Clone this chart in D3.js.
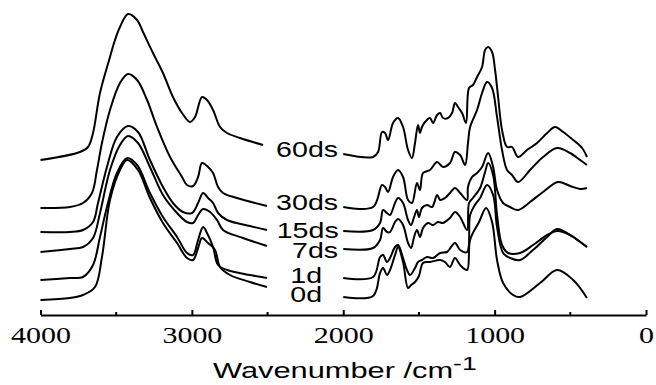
<!DOCTYPE html>
<html>
<head>
<meta charset="utf-8">
<script src="https://cdn.jsdelivr.net/npm/d3@7"></script>
<style>
  body { margin: 0; background: #fff; }
  svg { display: block; }
  .tick text { font-family: "Liberation Serif", "DejaVu Serif", serif; }
</style>
</head>
<body>
<svg id="chart"></svg>
<script>
// FTIR spectra, stacked (intensity in arbitrary units)
var names = ["60ds", "30ds", "15ds", "7ds", "1d", "0d"];

// 4000 - 2500 cm-1 region, [wavenumber, a.u.]
var hi60ds = [[4000,1.55],[3739,1.63],[3686,1.68],[3653,1.82],[3607,2.22],[3541,2.58],[3508,2.75],[3475,2.88],[3422,3.01],[3362,2.95],[3323,2.83],[3257,2.62],[3191,2.42],[3125,2.18],[3065,2.02],[3012,1.93],[2979,1.98],[2933,2.18],[2900,2.15],[2860,2.05],[2814,1.88],[2768,1.82],[2682,1.77],[2530,1.70]];
var hi30ds = [[4000,1.07],[3805,1.08],[3719,1.12],[3660,1.22],[3627,1.45],[3594,1.72],[3541,2.05],[3475,2.32],[3422,2.41],[3362,2.35],[3296,2.15],[3230,1.88],[3144,1.58],[3065,1.38],[3032,1.30],[2992,1.29],[2959,1.38],[2933,1.52],[2893,1.48],[2860,1.42],[2827,1.28],[2794,1.22],[2702,1.17],[2504,1.09]];
var hi15ds = [[4000,0.83],[3805,0.83],[3719,0.85],[3653,0.93],[3620,1.12],[3561,1.48],[3495,1.78],[3422,1.89],[3356,1.83],[3277,1.55],[3191,1.28],[3125,1.12],[3059,1.03],[2999,1.02],[2959,1.12],[2926,1.22],[2893,1.17],[2860,1.12],[2827,1.02],[2768,0.95],[2616,0.89],[2504,0.85]];
var hi7ds = [[4000,0.63],[3805,0.66],[3719,0.68],[3653,0.77],[3607,1.02],[3541,1.45],[3475,1.70],[3422,1.79],[3356,1.72],[3277,1.48],[3191,1.20],[3098,1.02],[3032,0.93],[2992,0.92],[2959,1.00],[2926,1.06],[2880,1.03],[2834,0.95],[2794,0.85],[2662,0.77],[2504,0.69]];
var hi1d = [[4000,0.35],[3805,0.37],[3719,0.38],[3653,0.50],[3607,0.78],[3561,1.08],[3495,1.42],[3428,1.57],[3362,1.50],[3277,1.22],[3191,0.98],[3098,0.78],[3032,0.62],[2992,0.60],[2959,0.75],[2926,0.88],[2900,0.82],[2860,0.68],[2827,0.50],[2768,0.45],[2616,0.40],[2504,0.37]];
var hi0d = [[4000,0.15],[3805,0.17],[3719,0.20],[3640,0.28],[3594,0.58],[3541,1.15],[3475,1.45],[3428,1.55],[3356,1.45],[3277,1.17],[3191,0.92],[3098,0.72],[3032,0.57],[2992,0.55],[2959,0.67],[2933,0.77],[2893,0.72],[2847,0.65],[2814,0.48],[2748,0.40],[2616,0.33],[2504,0.28]];

// 2000 - 400 cm-1 region
var lo60ds = [[2000,1.61],[1803,1.58],[1770,1.63],[1744,1.83],[1724,1.82],[1704,1.75],[1671,1.92],[1638,1.97],[1605,1.88],[1572,1.65],[1546,1.57],[1526,1.72],[1506,1.90],[1493,1.82],[1480,1.88],[1460,1.93],[1427,1.97],[1407,1.92],[1380,2.00],[1360,2.02],[1341,1.97],[1308,1.97],[1281,2.02],[1262,2.12],[1242,2.08],[1215,2.02],[1189,1.92],[1169,2.27],[1143,2.30],[1116,2.38],[1083,2.48],[1063,2.65],[1043,2.68],[1017,2.63],[997,2.45],[977,2.18],[951,1.85],[918,1.68],[885,1.68],[845,1.58],[786,1.65],[720,1.72],[653,1.82],[601,1.88],[547,1.83],[481,1.75],[422,1.67],[390,1.58]];
var lo30ds = [[2000,1.08],[1803,1.08],[1744,1.30],[1724,1.28],[1704,1.23],[1671,1.38],[1638,1.45],[1605,1.38],[1572,1.15],[1546,1.12],[1513,1.32],[1493,1.25],[1473,1.42],[1427,1.45],[1380,1.53],[1341,1.48],[1295,1.52],[1262,1.63],[1228,1.60],[1195,1.50],[1176,1.72],[1162,1.88],[1116,2.05],[1083,2.22],[1050,2.33],[1017,2.27],[984,1.98],[951,1.65],[918,1.45],[885,1.40],[845,1.33],[766,1.45],[680,1.58],[587,1.67],[501,1.62],[435,1.55],[390,1.50]];
var lo15ds = [[2000,0.84],[1803,0.85],[1757,0.92],[1737,1.05],[1711,1.02],[1691,1.00],[1658,1.12],[1638,1.17],[1605,1.12],[1572,0.95],[1552,0.90],[1532,0.98],[1513,1.05],[1500,0.98],[1480,1.07],[1447,1.10],[1413,1.08],[1380,1.20],[1360,1.15],[1328,1.17],[1295,1.22],[1262,1.27],[1228,1.22],[1182,1.15],[1176,1.28],[1149,1.38],[1116,1.42],[1083,1.48],[1043,1.62],[1010,1.48],[984,1.25],[944,1.12],[898,1.08],[845,1.05],[766,1.13],[680,1.23],[581,1.33],[501,1.29],[435,1.26],[390,1.27]];
var lo7ds = [[2000,0.66],[1803,0.67],[1757,0.75],[1737,0.87],[1711,0.83],[1691,0.83],[1658,0.93],[1638,0.96],[1605,0.90],[1572,0.72],[1552,0.67],[1532,0.78],[1513,0.85],[1493,0.78],[1473,0.87],[1440,0.92],[1407,0.90],[1374,0.93],[1341,0.92],[1295,0.97],[1262,1.03],[1228,0.98],[1182,0.85],[1169,1.12],[1143,1.17],[1096,1.27],[1063,1.43],[1043,1.52],[1010,1.40],[984,1.00],[951,0.70],[911,0.62],[832,0.62],[746,0.70],[653,0.80],[587,0.84],[501,0.80],[435,0.73],[390,0.68]];
var lo1d = [[2000,0.37],[1803,0.38],[1757,0.58],[1737,0.60],[1711,0.53],[1691,0.57],[1658,0.68],[1638,0.70],[1605,0.57],[1579,0.45],[1559,0.40],[1526,0.47],[1506,0.53],[1480,0.55],[1447,0.58],[1407,0.57],[1360,0.62],[1315,0.63],[1262,0.72],[1228,0.65],[1182,0.63],[1162,1.00],[1130,1.10],[1096,1.17],[1050,1.30],[1010,1.20],[984,0.88],[944,0.62],[898,0.57],[832,0.55],[746,0.65],[653,0.78],[587,0.86],[481,0.78],[390,0.68]];
var lo0d = [[2000,0.18],[1803,0.19],[1757,0.42],[1737,0.47],[1711,0.40],[1691,0.45],[1658,0.60],[1638,0.68],[1605,0.53],[1572,0.27],[1552,0.30],[1526,0.33],[1500,0.39],[1473,0.52],[1427,0.53],[1360,0.55],[1328,0.53],[1295,0.48],[1262,0.57],[1228,0.50],[1182,0.45],[1162,0.75],[1103,0.93],[1056,1.07],[1017,0.93],[984,0.55],[944,0.32],[878,0.20],[832,0.18],[700,0.32],[587,0.45],[481,0.35],[390,0.17]];

// label anchors (right end wavenumber, baseline level in a.u.)
var labelWn = [2034, 2034, 2030, 2034, 2140, 2140];
var labelLevel = [1.58, 1.05, 0.77, 0.57, 0.32, 0.135];

var xTicks = [4000, 3000, 2000, 1000, 0];
var xMinor = [3500, 2500, 1500, 500];

var hiSets = [hi60ds, hi30ds, hi15ds, hi7ds, hi1d, hi0d];
var loSets = [lo60ds, lo30ds, lo15ds, lo7ds, lo1d, lo0d];

var W = 656, H = 385;
var svg = d3.select("#chart").attr("width", W).attr("height", H);

var x = d3.scaleLinear().domain([4000, 0]).range([40.5, 646]);
var y = d3.scaleLinear().domain([0, 3]).range([315, 15]);

var line = d3.line()
  .x(function(d){ return x(d[0]); })
  .y(function(d){ return y(d[1]); })
  .curve(d3.curveCatmullRom.alpha(0.5));

var curves = svg.append("g");
hiSets.concat(loSets).forEach(function(s){
  curves.append("path")
    .attr("d", line(s))
    .attr("fill", "none")
    .attr("stroke", "#000")
    .attr("stroke-width", 2)
    .attr("stroke-linejoin", "round");
});

// series names, text in the picture is stretched sideways
names.forEach(function(n, i){
  svg.append("text")
    .attr("transform", "translate(" + x(labelWn[i]) + "," + y(labelLevel[i]) + ") scale(1.3,1)")
    .attr("text-anchor", "end")
    .attr("font-family", "'Liberation Sans', Arial, sans-serif")
    .attr("font-size", 22)
    .attr("fill", "#000")
    .text(n);
});

// x axis, ticks pointing inward
var axis = svg.append("g")
  .attr("transform", "translate(0,315)")
  .call(d3.axisBottom(x).tickValues(xTicks).tickSize(-5).tickSizeOuter(0).tickPadding(11)
    .tickFormat(d3.format("d")));

axis.attr("font-family", null);
axis.select(".domain").attr("stroke", "#000").attr("stroke-width", 2);
axis.selectAll(".tick line").attr("stroke", "#000").attr("stroke-width", 2);
axis.selectAll(".tick text")
  .style("font-family", "'Liberation Serif', 'DejaVu Serif', serif")
  .attr("font-size", 24)
  .attr("fill", "#000")
  .attr("transform", "scale(1.25,1)");

axis.selectAll("line.minor").data(xMinor).enter()
  .append("line")
  .attr("class", "minor")
  .attr("x1", function(d){ return x(d); })
  .attr("x2", function(d){ return x(d); })
  .attr("y1", 0).attr("y2", -3)
  .attr("stroke", "#000").attr("stroke-width", 2);

var title = svg.append("text")
  .attr("transform", "translate(213,377.5) scale(1.4,1)")
  .attr("font-family", "'Liberation Sans', Arial, sans-serif")
  .attr("font-size", 22)
  .attr("fill", "#000");
title.append("tspan").text("Wavenumber /cm");
title.append("tspan").attr("dy", -8).attr("font-size", 19).text("-1");
</script>
</body>
</html>
